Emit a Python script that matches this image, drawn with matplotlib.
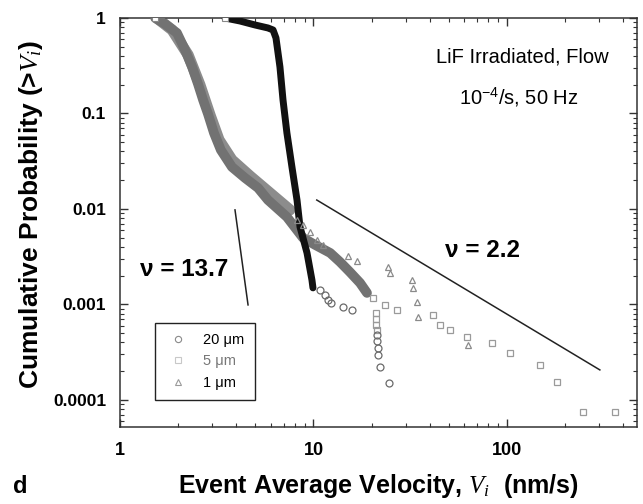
import matplotlib
matplotlib.use("Agg")
import matplotlib.pyplot as plt
from matplotlib import ticker

plt.rcParams['font.family'] = ['Liberation Sans', 'DejaVu Sans']
plt.rcParams['mathtext.fontset'] = 'custom'
plt.rcParams['mathtext.it'] = 'Liberation Serif:italic'
plt.rcParams['mathtext.rm'] = 'Liberation Sans'

# 20 um (circles) - dense part looks like a thick black band
v20_band = [3.49, 4.17, 4.99, 5.82, 6.18, 6.40, 6.71, 6.96, 7.29, 7.74, 8.22, 8.52, 9.26, 9.82, 9.94]
p20_band = [1.0, 0.93, 0.845, 0.786, 0.749, 0.618, 0.307, 0.138, 0.0625, 0.0275, 0.0124, 0.00648, 0.00346, 0.0018, 0.00149]
v20_pts = [10.8, 11.5, 11.9, 12.3, 14.2, 15.8, 21.3, 21.3, 21.5, 21.5, 22.1, 24.6]
p20_pts = [0.00142, 0.00126, 0.00111, 0.00104, 0.000942, 0.000875, 0.00048, 0.000415, 0.00035, 0.000296, 0.000222, 0.000151]

# 5 um (squares)
v5_band = [1.52, 1.71, 1.97, 2.17, 2.36, 2.53, 2.69, 2.85, 3.06, 3.32, 3.79, 4.43, 5.17, 5.82, 7.29,
           8.83, 10.2, 12.2, 13.7, 15.4, 17.4, 18.9]
p5_band = [1.0, 0.865, 0.697, 0.462, 0.307, 0.204, 0.138, 0.0988, 0.0625, 0.0415, 0.0275, 0.0211, 0.0166,
           0.0124, 0.00824, 0.00497, 0.0042, 0.00346, 0.00279, 0.00219, 0.00168, 0.00132]
v5_pts = [20.3, 21.0, 21.0, 21.0, 21.3, 23.4, 27.0, 41.4, 45.1, 50.7, 62.1, 83.6, 104, 148, 181, 247, 361]
p5_pts = [0.00117, 0.000815, 0.000705, 0.00061, 0.000541, 0.000988, 0.000875, 0.000776, 0.00061,
          0.000541, 0.000457, 0.000395, 0.000311, 0.000232, 0.000154, 0.0000748, 0.0000748]

# 1 um (triangles)
v1_band = [1.55, 1.86, 2.25, 2.59, 2.92, 3.25, 3.79, 4.70, 5.96, 7.56]
p1_band = [1.0, 0.749, 0.41, 0.199, 0.0964, 0.0528, 0.0326, 0.0221, 0.0147, 0.00977]
v1_pts = [8.22, 8.83, 9.59, 10.4, 11.2, 15.1, 16.8, 24.3, 24.8, 32.3, 32.7, 34.3, 34.7, 62.9]
p1_pts = [0.00767, 0.00679, 0.00574, 0.00473, 0.0042, 0.00322, 0.00285, 0.00247, 0.00214, 0.0018,
          0.00149, 0.00107, 0.00074, 0.000377]

# guide lines
nu22_x = [10.4, 302]
nu22_y = [0.0124, 0.000206]
nu137_x = [3.93, 4.59]
nu137_y = [0.00977, 0.000988]

fig = plt.figure(figsize=(6.43, 5.04), dpi=100)
ax = fig.add_axes([0.1866, 0.1528, 0.8041, 0.8115])
ax.set_xscale('log')
ax.set_yscale('log')

c20, c5, c1 = '#6a6a6a', '#9a9a9a', '#8a8a8a'

ax.plot(v1_band, p1_band, '-', color='#8c8c8c', lw=8, solid_capstyle='round', zorder=2)
ax.plot(v5_band, p5_band, '-', color='#727272', lw=7, solid_capstyle='round', zorder=3)
ax.plot(v20_band, p20_band, '-', color='#111111', lw=5, solid_capstyle='round', zorder=4)

ax.plot(v1_pts, p1_pts, '^', ms=5, mfc='none', mec=c1, mew=0.9, ls='none', zorder=5)
ax.plot(v5_pts, p5_pts, 's', ms=5, mfc='none', mec=c5, mew=0.9, ls='none', zorder=5)
ax.plot(v20_pts, p20_pts, 'o', ms=5, mfc='none', mec=c20, mew=0.9, ls='none', zorder=5)

# white start markers at top
ax.plot([v5_band[0], v20_band[0]], [p5_band[0], p20_band[0]], 's', ms=5, mfc='white', mec='#888888',
        mew=0.8, ls='none', zorder=6)

ax.plot(nu22_x, nu22_y, color='#222222', lw=1.1, zorder=3)
ax.plot(nu137_x, nu137_y, color='#222222', lw=1.1, zorder=3)

ax.text(2.14, 0.0023, 'ν = 13.7', fontsize=17.5, fontweight='bold', ha='center', va='center')
ax.text(74.3, 0.0037, 'ν = 2.2', fontsize=17.5, fontweight='bold', ha='center', va='center')
ax.text(0.778, 0.905, 'LiF Irradiated, Flow', transform=ax.transAxes, fontsize=14.5, ha='center', va='center')
ax.text(0.772, 0.807, r'10$^{\mathrm{-4}}$/s, 50 Hz', transform=ax.transAxes, fontsize=14.5, ha='center', va='center')

h20, = ax.plot([], [], 'o', ms=4.5, mfc='none', mec='#8a8a8a', mew=0.8)
h5, = ax.plot([], [], 's', ms=4.5, mfc='none', mec='#c8c8c8', mew=0.8)
h1, = ax.plot([], [], '^', ms=4.5, mfc='none', mec='#9a9a9a', mew=0.8)
leg = ax.legend([h20, h5, h1], ['20 μm', '5 μm', '1 μm'], loc='lower left',
                bbox_to_anchor=(0.068, 0.066), borderaxespad=0, fancybox=False,
                edgecolor='#222222', fontsize=10.5, handlelength=1.8, labelspacing=0.5,
                borderpad=0.7, framealpha=1)
leg.get_frame().set_linewidth(1.0)
leg.get_texts()[1].set_color('#777777')

ax.set_xlim(1, 470)
ax.set_ylim(5.2e-5, 1)
fmt = ticker.FuncFormatter(lambda v, p: f'{v:g}')
ax.xaxis.set_major_formatter(fmt)
ax.yaxis.set_major_formatter(fmt)
ax.xaxis.set_minor_formatter(ticker.NullFormatter())
ax.yaxis.set_minor_formatter(ticker.NullFormatter())
ax.tick_params(which='both', direction='in', top=True, right=True, color='#333333')
ax.tick_params(which='major', length=6, width=1)
ax.tick_params(which='minor', length=3, width=0.8)
ax.tick_params(axis='x', pad=11, labelsize=13)
ax.tick_params(axis='y', pad=10, labelsize=12.5)
for lab in ax.get_xticklabels() + ax.get_yticklabels():
    lab.set_fontweight('bold')
for s in ax.spines.values():
    s.set_linewidth(1.1)
    s.set_color('#333333')

ax.set_xlabel(r'Event Average Velocity, $V_i$  (nm/s)', fontsize=18, fontweight='bold')
ax.set_ylabel(r'Cumulative Probability (>$V_i$)', fontsize=19, fontweight='bold')
ax.xaxis.set_label_coords(0.5, -0.11)
ax.yaxis.set_label_coords(-0.145, 0.52)
fig.text(0.031, 0.035, 'd', fontsize=17, fontweight='bold', ha='center', va='center')

fig.savefig('out.png', dpi=100)
